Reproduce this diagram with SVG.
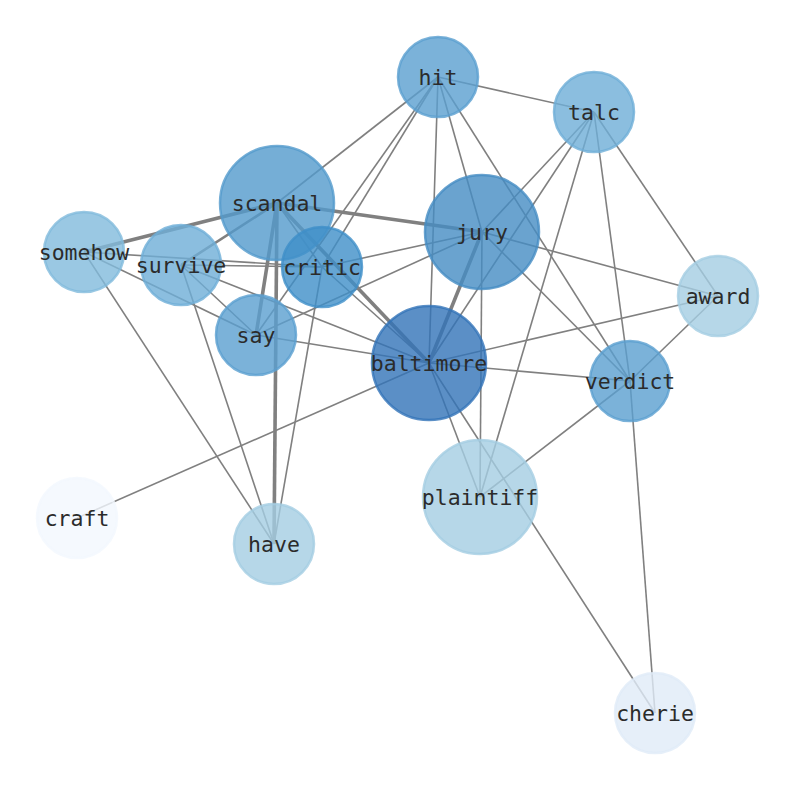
<svg xmlns="http://www.w3.org/2000/svg" width="794" height="790" viewBox="0 0 794 790">
<style>
.e{stroke:#808080;stroke-width:1.6;fill:none}
.t{stroke-width:3.6}
.m{stroke-width:2.6}
.n{stroke-width:2.5;fill-opacity:0.8;stroke-opacity:0.8}
.l{font-family:"DejaVu Sans Mono",monospace;font-size:21.5px;fill:#2b2b2b;text-anchor:middle;dominant-baseline:central}
</style>
<rect width="794" height="790" fill="#ffffff"/>
<g id="edges">
<line class="e" x1="438" y1="77" x2="594" y2="112"/>
<line class="e" x1="438" y1="77" x2="277" y2="203"/>
<line class="e" x1="438" y1="77" x2="322" y2="267"/>
<line class="e" x1="438" y1="77" x2="256" y2="335"/>
<line class="e" x1="438" y1="77" x2="482" y2="232"/>
<line class="e" x1="438" y1="77" x2="429" y2="363"/>
<line class="e" x1="438" y1="77" x2="630" y2="381"/>
<line class="e" x1="594" y1="112" x2="482" y2="232"/>
<line class="e" x1="594" y1="112" x2="429" y2="363"/>
<line class="e" x1="594" y1="112" x2="480" y2="497"/>
<line class="e" x1="594" y1="112" x2="630" y2="381"/>
<line class="e" x1="594" y1="112" x2="718" y2="296"/>
<line class="e t" x1="277" y1="203" x2="84" y2="252"/>
<line class="e m" x1="277" y1="203" x2="181" y2="265"/>
<line class="e t" x1="277" y1="203" x2="482" y2="232"/>
<line class="e t" x1="277" y1="203" x2="256" y2="335"/>
<line class="e t" x1="277" y1="203" x2="274" y2="544"/>
<line class="e t" x1="277" y1="203" x2="429" y2="363"/>
<line class="e" x1="277" y1="203" x2="322" y2="267"/>
<line class="e" x1="482" y1="232" x2="322" y2="267"/>
<line class="e" x1="482" y1="232" x2="256" y2="335"/>
<line class="e t" x1="482" y1="232" x2="429" y2="363"/>
<line class="e" x1="482" y1="232" x2="480" y2="497"/>
<line class="e" x1="482" y1="232" x2="718" y2="296"/>
<line class="e" x1="482" y1="232" x2="630" y2="381"/>
<line class="e" x1="84" y1="252" x2="322" y2="267"/>
<line class="e" x1="84" y1="252" x2="256" y2="335"/>
<line class="e" x1="84" y1="252" x2="274" y2="544"/>
<line class="e" x1="181" y1="265" x2="322" y2="267"/>
<line class="e" x1="181" y1="265" x2="256" y2="335"/>
<line class="e" x1="181" y1="265" x2="429" y2="363"/>
<line class="e" x1="181" y1="265" x2="274" y2="544"/>
<line class="e" x1="322" y1="267" x2="429" y2="363"/>
<line class="e" x1="322" y1="267" x2="274" y2="544"/>
<line class="e" x1="256" y1="335" x2="429" y2="363"/>
<line class="e" x1="429" y1="363" x2="718" y2="296"/>
<line class="e" x1="429" y1="363" x2="630" y2="381"/>
<line class="e" x1="429" y1="363" x2="480" y2="497"/>
<line class="e" x1="429" y1="363" x2="655" y2="713"/>
<line class="e" x1="429" y1="363" x2="77" y2="518"/>
<line class="e" x1="630" y1="381" x2="718" y2="296"/>
<line class="e" x1="630" y1="381" x2="480" y2="497"/>
<line class="e" x1="630" y1="381" x2="655" y2="713"/>
</g>
<g id="node-hit"><circle class="n" cx="438" cy="77" r="40" fill="#5a9fcf" stroke="#5a9fcf"/><text class="l" x="438" y="77">hit</text></g>
<g id="node-talc"><circle class="n" cx="594" cy="112" r="40" fill="#6eaed7" stroke="#6eaed7"/><text class="l" x="594" y="112">talc</text></g>
<g id="node-scandal"><circle class="n" cx="277" cy="203" r="57" fill="#529acc" stroke="#529acc"/><text class="l" x="277" y="203">scandal</text></g>
<g id="node-jury"><circle class="n" cx="482" cy="232" r="57" fill="#458cc3" stroke="#458cc3"/><text class="l" x="482" y="232">jury</text></g>
<g id="node-somehow"><circle class="n" cx="84" cy="252" r="40" fill="#81badc" stroke="#81badc"/><text class="l" x="84" y="252">somehow</text></g>
<g id="node-survive"><circle class="n" cx="181" cy="265" r="40" fill="#6eaed7" stroke="#6eaed7"/><text class="l" x="181" y="265">survive</text></g>
<g id="node-critic"><circle class="n" cx="322" cy="267" r="40" fill="#3e8ec8" stroke="#3e8ec8"/><text class="l" x="322" y="267">critic</text></g>
<g id="node-say"><circle class="n" cx="256" cy="335" r="40" fill="#5a9fcf" stroke="#5a9fcf"/><text class="l" x="256" y="335">say</text></g>
<g id="node-baltimore"><circle class="n" cx="429" cy="363" r="57" fill="#3273b8" stroke="#3273b8"/><text class="l" x="429" y="363">baltimore</text></g>
<g id="node-award"><circle class="n" cx="718" cy="296" r="40" fill="#a4cde2" stroke="#a4cde2"/><text class="l" x="718" y="296">award</text></g>
<g id="node-verdict"><circle class="n" cx="630" cy="381" r="40" fill="#5a9fcf" stroke="#5a9fcf"/><text class="l" x="630" y="381">verdict</text></g>
<g id="node-plaintiff"><circle class="n" cx="480" cy="497" r="57" fill="#a4cde2" stroke="#a4cde2"/><text class="l" x="480" y="497">plaintiff</text></g>
<g id="node-craft"><circle class="n" cx="77" cy="518" r="40" fill="#f2f7fe" stroke="#f2f7fe"/><text class="l" x="77" y="518">craft</text></g>
<g id="node-have"><circle class="n" cx="274" cy="544" r="40" fill="#a4cde2" stroke="#a4cde2"/><text class="l" x="274" y="544">have</text></g>
<g id="node-cherie"><circle class="n" cx="655" cy="713" r="40" fill="#e0ebf8" stroke="#e0ebf8"/><text class="l" x="655" y="713">cherie</text></g>
</svg>
